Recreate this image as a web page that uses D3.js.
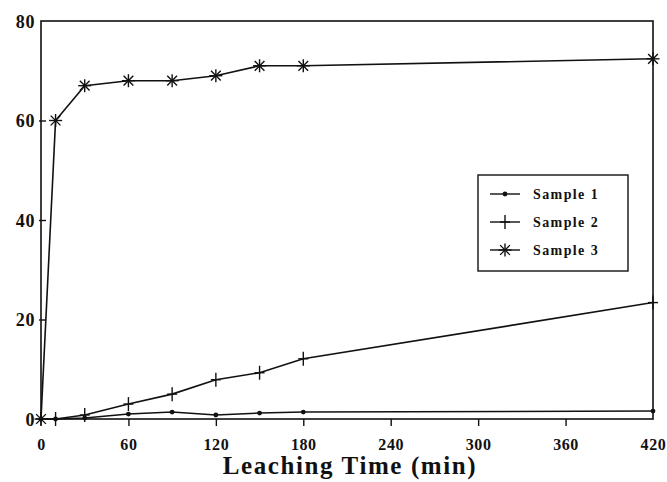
<!DOCTYPE html>
<html>
<head>
<meta charset="utf-8">
<script src="https://cdn.jsdelivr.net/npm/d3@7"></script>
<style>
  body { margin: 0; background: #fff; }
  text { font-family: "Liberation Serif", "DejaVu Serif", serif; font-weight: bold; fill: #111; }
</style>
</head>
<body>
<svg id="chart" width="667" height="482"></svg>
<script>
// leaching time (min)
const times = [0, 10, 30, 60, 90, 120, 150, 180, 420];
const sample1 = [0, 0, 0.2, 1, 1.4, 0.8, 1.2, 1.4, 1.6];
const sample2 = [0, 0, 0.8, 3, 5, 7.9, 9.3, 12.1, 23.4];
const sample3 = [0, 60, 67, 68, 68, 69, 71, 71, 72.4];
const seriesNames = ["Sample 1", "Sample 2", "Sample 3"];
const xTicks = [0, 60, 120, 180, 240, 300, 360, 420];
const yTicks = [0, 20, 40, 60, 80];

const svg = d3.select("#chart");
const margin = { top: 21, right: 14, bottom: 63, left: 41 };
const width = 667 - margin.left - margin.right;
const height = 482 - margin.top - margin.bottom;
const ink = "#111";

const g = svg.append("g").attr("transform", `translate(${margin.left},${margin.top})`);

const x = d3.scaleLinear().domain([0, 420]).range([0, width]);
const y = d3.scaleLinear().domain([0, 80]).range([height, 0]);

// frame
g.append("rect")
    .attr("width", width).attr("height", height)
    .attr("fill", "none").attr("stroke", ink).attr("stroke-width", 1.6);

// x axis
const xAxis = g.append("g")
    .attr("transform", `translate(0,${height})`)
    .call(d3.axisBottom(x).tickValues(xTicks).tickSize(7).tickPadding(13));
xAxis.select(".domain").remove();
xAxis.selectAll("line").attr("stroke", ink).attr("stroke-width", 1.4);
xAxis.selectAll("text").attr("font-size", 16).style("letter-spacing", "0.6px").attr("fill", ink);
xAxis.selectAll(".tick").filter(d => d === 0 || d === 420).select("line").remove();

// y axis
const yAxis = g.append("g")
    .call(d3.axisLeft(y).tickValues(yTicks).tickSize(3).tickPadding(3));
yAxis.select(".domain").remove();
yAxis.selectAll("line").attr("stroke", ink).attr("stroke-width", 1.4).attr("x2", 5).attr("x1", -2);
yAxis.selectAll("text").attr("font-size", 18).style("letter-spacing", "0.6px").attr("fill", ink).attr("dy", "0.36em");
yAxis.selectAll(".tick").filter(d => d === 80 || d === 0).select("line").remove();

// axis title
svg.append("text")
    .attr("x", 350).attr("y", 474)
    .attr("text-anchor", "middle")
    .attr("font-size", 25)
    .style("letter-spacing", "1.6px")
    .text("Leaching Time (min)");

const series = [sample1, sample2, sample3].map((vals, i) =>
    ({ name: seriesNames[i], points: times.map((t, j) => ({ t: t, v: vals[j] })) }));

const line = d3.line().x(d => x(d.t)).y(d => y(d.v));

g.selectAll(".series")
    .data(series)
    .enter().append("path")
    .attr("d", d => line(d.points))
    .attr("fill", "none")
    .attr("stroke", ink)
    .attr("stroke-width", 1.6);

// marker drawing
function drawMarker(sel, type) {
    if (type === 0) {
        sel.append("circle").attr("r", 2.4).attr("fill", ink);
    } else if (type === 1) {
        sel.append("line").attr("x1", 0).attr("x2", 0).attr("y1", -7).attr("y2", 7);
        sel.append("line").attr("x1", -5).attr("x2", 5).attr("y1", 0).attr("y2", 0);
    } else {
        const r = 6.5;
        sel.append("line").attr("x1", 0).attr("x2", 0).attr("y1", -r).attr("y2", r);
        sel.append("line").attr("x1", -r).attr("x2", r).attr("y1", 0).attr("y2", 0);
        sel.append("line").attr("x1", -r * 0.75).attr("x2", r * 0.75).attr("y1", -r * 0.75).attr("y2", r * 0.75);
        sel.append("line").attr("x1", -r * 0.75).attr("x2", r * 0.75).attr("y1", r * 0.75).attr("y2", -r * 0.75);
    }
    sel.selectAll("line").attr("stroke", ink).attr("stroke-width", 1.4);
}

series.forEach((s, i) => {
    g.append("g").selectAll("g")
        .data(s.points)
        .enter().append("g")
        .attr("transform", d => `translate(${x(d.t)},${y(d.v)})`)
        .each(function () { drawMarker(d3.select(this), i); });
});

// legend
const legend = svg.append("g").attr("transform", "translate(478,175)");
legend.append("rect")
    .attr("width", 150).attr("height", 96)
    .attr("fill", "#fff").attr("stroke", ink).attr("stroke-width", 1.4);

seriesNames.forEach((name, i) => {
    const row = legend.append("g").attr("transform", `translate(0,${19 + i * 28})`);
    row.append("line").attr("x1", 12).attr("x2", 42).attr("y1", 0).attr("y2", 0)
        .attr("stroke", ink).attr("stroke-width", 1.4);
    const m = row.append("g").attr("transform", "translate(27,0)");
    drawMarker(m, i);
    row.append("text")
        .attr("x", 55).attr("y", 0).attr("dy", "0.35em")
        .attr("font-size", 14)
        .style("letter-spacing", "1.4px")
        .text(name);
});
</script>
</body>
</html>
